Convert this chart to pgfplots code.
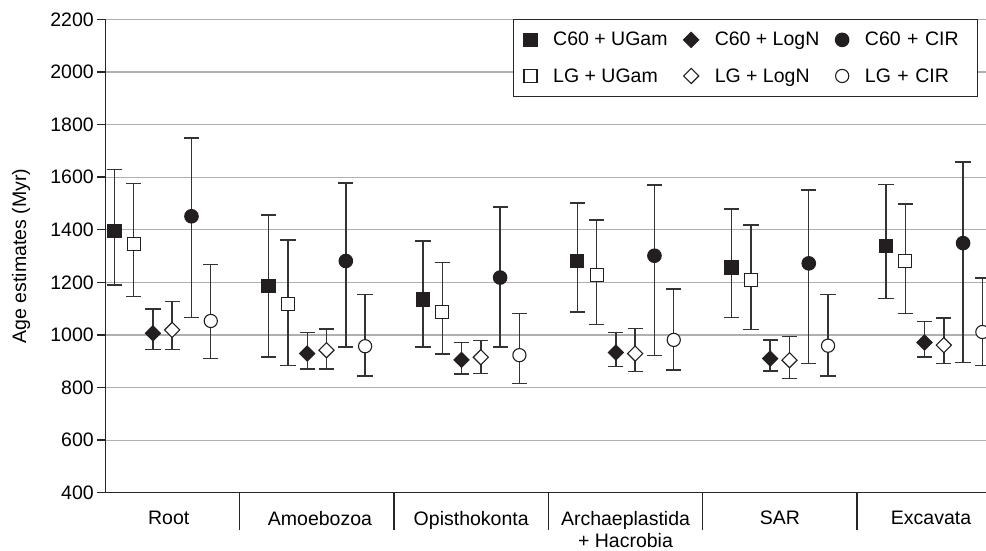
\documentclass[border=0pt]{standalone}
\usepackage{pgfplots}
\usepackage{pgfplotstable}
\pgfplotsset{compat=1.18}
\usepackage{fontspec}
\setmainfont{Liberation Sans}
\definecolor{mk}{HTML}{231F20}
\definecolor{eb}{HTML}{333333}
\definecolor{gridc}{HTML}{B0B0B0}
\newcommand{\bigfont}{\fontsize{19.5}{22}\selectfont}

% columns: x  y  hi  lo
\pgfplotstableread{
x y hi lo
-0.3125 1395 1628 1189
0.6875 1185 1456 916
1.6875 1135 1357 954
2.6875 1280 1501 1087
3.6875 1257 1478 1066
4.6875 1338 1571 1138
}\cUGam
\pgfplotstableread{
x y hi lo
-0.1875 1344 1576 1147
0.8125 1119 1361 884
1.8125 1086 1275 927
2.8125 1229 1437 1040
3.8125 1210 1418 1020
4.8125 1280 1497 1081
}\lUGam
\pgfplotstableread{
x y hi lo
-0.0625 1006 1099 944
0.9375 929 1010 870
1.9375 905 972 851
2.9375 933 1008 881
3.9375 910 980 862
4.9375 971 1052 916
}\cLogN
\pgfplotstableread{
x y hi lo
0.0625 1019 1127 944
1.0625 942 1023 870
2.0625 915 978 853
3.0625 929 1024 861
4.0625 904 995 835
5.0625 961 1065 891
}\lLogN
\pgfplotstableread{
x y hi lo
0.1875 1451 1749 1067
1.1875 1281 1578 954
2.1875 1218 1486 954
3.1875 1301 1570 922
4.1875 1272 1551 891
5.1875 1349 1657 895
}\cCIR
\pgfplotstableread{
x y hi lo
0.3125 1053 1268 910
1.3125 957 1153 843
2.3125 923 1082 816
3.3125 981 1175 866
4.3125 959 1154 844
5.3125 1011 1216 884
}\lCIR

\pgfplotsset{
  ebar/.style={error bars/.cd, y dir=both, y explicit,
    error bar style={eb, line width=1.4pt},
    error mark options={eb, line width=1.4pt, mark size=7.6pt, rotate=90}},
}

\begin{document}
\begin{tikzpicture}[font=\bigfont]
\useasboundingbox (-105.3pt,-57.3pt) rectangle (880.7pt,492.7pt);
\begin{axis}[
  at={(0pt,0pt)}, anchor=south west,
  width=880.7pt, height=473.4pt, scale only axis,
  font=\bigfont,
  xmin=-0.371, xmax=5.336,
  ymin=400, ymax=2200,
  ytick={400,600,...,2200},
  axis y line*=left, axis x line*=bottom,
  axis line style={line width=1.4pt, color=black!85, -},
  ymajorgrids, grid style={gridc, line width=1.2pt},
  tick align=outside, major tick length=8pt,
  tick style={line width=1.4pt, color=black!85},
  tick label style={font=\bigfont},
  /pgf/number format/assume math mode=true,
  /pgf/number format/1000 sep={},
  xtick={0.04,1.02,2,3,4,4.98},
  xticklabels={Root, Amoebozoa, Opisthokonta, {Archaeplastida\\+ Hacrobia}, SAR, Excavata},
  xticklabel style={align=center, inner sep=2pt, yshift=-8.3pt},
  x tick style={draw=none},
  extra x ticks={0.5,1.5,2.5,3.5,4.5},
  extra x tick labels={},
  extra x tick style={major tick length=37pt, x tick style={draw=black!85, line width=1.4pt}},
  ylabel={Age estimates (Myr)},
  ylabel style={at={(axis description cs:-0.0957,0.5)}, anchor=center, font=\bigfont},
  legend columns=3,
  legend cell align=left,
  legend image code/.code={\draw[#1] plot coordinates {(0pt,0pt)};},
  legend style={at={(axis description cs:0.4633,1)}, anchor=north west,
    draw=black!85, line width=1pt, inner ysep=10.5pt, inner xsep=10pt,
    row sep=17pt, font=\bigfont,
    /tikz/every odd column/.append style={column sep=14pt},
    /tikz/every even column/.append style={column sep=14pt},
    /tikz/column 6/.append style={nodes={text width=101pt}}},
]
\addplot[only marks, mark=square*, mark size=6.7pt, mark options={fill=mk, draw=mk, line width=1pt}, ebar]
  table[x=x, y=y, y error plus expr=\thisrow{hi}-\thisrow{y}, y error minus expr=\thisrow{y}-\thisrow{lo}] {\cUGam};
\addlegendentry{C60 + UGam}
\addplot[only marks, mark=diamond*, mark size=7.6pt, mark options={fill=mk, draw=mk, line width=1pt, xscale=1.333}, ebar]
  table[x=x, y=y, y error plus expr=\thisrow{hi}-\thisrow{y}, y error minus expr=\thisrow{y}-\thisrow{lo}] {\cLogN};
\addlegendentry{C60 + LogN}
\addplot[only marks, mark=*, mark size=6.8pt, mark options={fill=mk, draw=mk, line width=1pt}, ebar]
  table[x=x, y=y, y error plus expr=\thisrow{hi}-\thisrow{y}, y error minus expr=\thisrow{y}-\thisrow{lo}] {\cCIR};
\addlegendentry{C60 + CIR}
\addplot[only marks, mark=square*, mark size=6.5pt, mark options={fill=white, draw=mk, line width=1.1pt}, ebar]
  table[x=x, y=y, y error plus expr=\thisrow{hi}-\thisrow{y}, y error minus expr=\thisrow{y}-\thisrow{lo}] {\lUGam};
\addlegendentry{LG + UGam}
\addplot[only marks, mark=diamond*, mark size=7.6pt, mark options={fill=white, draw=mk, line width=1.1pt, xscale=1.333}, ebar]
  table[x=x, y=y, y error plus expr=\thisrow{hi}-\thisrow{y}, y error minus expr=\thisrow{y}-\thisrow{lo}] {\lLogN};
\addlegendentry{LG + LogN}
\addplot[only marks, mark=*, mark size=6.6pt, mark options={fill=white, draw=mk, line width=1.1pt}, ebar]
  table[x=x, y=y, y error plus expr=\thisrow{hi}-\thisrow{y}, y error minus expr=\thisrow{y}-\thisrow{lo}] {\lCIR};
\addlegendentry{LG + CIR}
\end{axis}
\end{tikzpicture}
\end{document}
